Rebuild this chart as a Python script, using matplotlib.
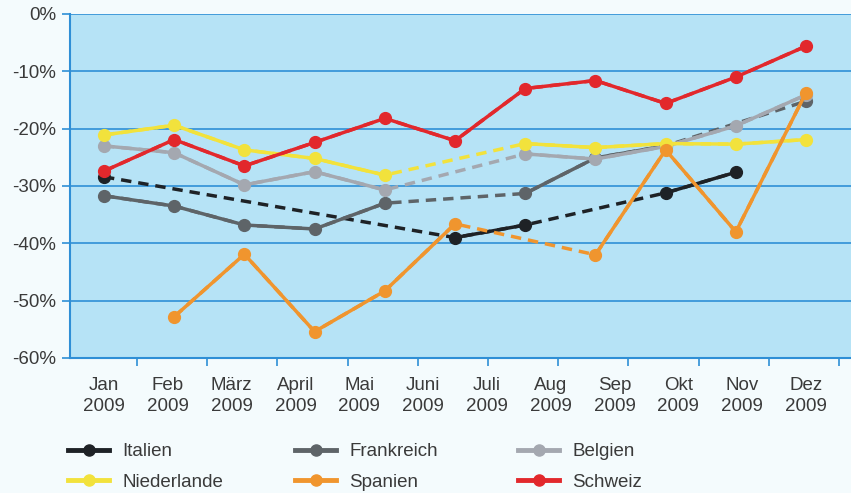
import numpy as np
import matplotlib
matplotlib.use('Agg')
import matplotlib.pyplot as plt
from matplotlib.lines import Line2D

plt.rcParams['font.family'] = ['Liberation Sans Narrow', 'Liberation Sans', 'DejaVu Sans']

nan = np.nan
months = ['Jan\n2009', 'Feb\n2009', 'März\n2009', 'April\n2009', 'Mai\n2009', 'Juni\n2009',
          'Juli\n2009', 'Aug\n2009', 'Sep\n2009', 'Okt\n2009', 'Nov\n2009', 'Dez\n2009']

# values in percent, one per data position (11 positions drawn)
italien     = [-28.4, nan, nan, nan, nan, -39.0, -36.8, nan, -31.2, -27.6, nan]
frankreich  = [-31.7, -33.5, -36.8, -37.5, -33.0, nan, -31.3, -25.1, -23.0, nan, -15.2]
belgien     = [-23.0, -24.2, -29.8, -27.5, -30.7, nan, -24.4, -25.3, -23.1, -19.5, -14.1]
niederlande = [-21.1, -19.4, -23.7, -25.2, -28.1, nan, -22.6, -23.3, -22.6, -22.7, -21.9]
spanien     = [nan, -52.8, -41.9, -55.4, -48.3, -36.6, nan, -42.0, -23.7, -38.0, -13.7]
schweiz     = [-27.4, -21.9, -26.5, -22.4, -18.2, -22.1, -13.0, -11.6, -15.6, -11.0, -5.6]

series = [
    ('Italien', italien, '#1e2226'),
    ('Frankreich', frankreich, '#5e6468'),
    ('Belgien', belgien, '#a4a8b0'),
    ('Niederlande', niederlande, '#f2e23c'),
    ('Spanien', spanien, '#f0952e'),
    ('Schweiz', schweiz, '#e2282c'),
]

W, H = 851, 493
fig = plt.figure(figsize=(W / 100, H / 100), dpi=100)
fig.patch.set_facecolor('#f4fbfd')
ax = fig.add_axes([70 / W, 1 - 358 / H, (W - 70) / W, (358 - 14) / H])
ax.set_facecolor('#b6e3f6')

blue = '#2f8fd6'
x = np.arange(len(schweiz))
for i, (name, vals, col) in enumerate(series):
    v = np.array(vals)
    ok = ~np.isnan(v)
    # dashed bridge over missing months
    ax.plot(x[ok], v[ok], color=col, lw=2.5, dashes=(3, 2), zorder=3 + i * 0.1)
    ax.plot(x, v, color=col, lw=2.5, marker='o', ms=8.5, zorder=3.05 + i * 0.1)

ax.set_ylim(-60, 0)
ax.set_xlim(-0.484, 10.64)
ax.set_yticks(np.arange(-60, 1, 10))
ax.set_yticklabels(['%d%%' % t for t in np.arange(-60, 1, 10)], fontsize=13.5, color='#3a3a3a')
ax.yaxis.grid(True, color=blue, lw=1.2)
ax.set_axisbelow(True)
ax.tick_params(axis='y', length=6, color=blue, width=1.2, pad=4)

ax.set_xticks(np.arange(11) + 0.47)
ax.set_xticklabels([])
ax.tick_params(axis='x', which='major', length=6, color=blue, width=1.2)
ax.set_xticks(np.arange(12) * 10 / 11, minor=True)
ax.set_xticklabels(months, minor=True, fontsize=13.5, color='#3a3a3a', linespacing=1.3)
ax.tick_params(axis='x', which='minor', length=0, pad=14)

for s in ['left', 'bottom']:
    ax.spines[s].set_color(blue)
    ax.spines[s].set_linewidth(1.5)
for s in ['top', 'right']:
    ax.spines[s].set_visible(False)

# legend in three columns
cols = [[series[0], series[3]], [series[1], series[4]], [series[2], series[5]]]
xs = [68, 295, 518]
for cx, pair in zip(xs, cols):
    handles = [Line2D([], [], color=c, lw=3.5, marker='o', ms=8) for _, _, c in pair]
    leg = fig.legend(handles, [n for n, _, _ in pair], loc='upper left',
                     bbox_to_anchor=(cx / W, 1 - 443 / H), frameon=False,
                     fontsize=13.5, handlelength=2.2, handletextpad=0.7,
                     labelspacing=0.72, borderpad=0, borderaxespad=0)
    for t in leg.get_texts():
        t.set_color('#3a3a3a')

fig.savefig('out.png', dpi=100, facecolor=fig.get_facecolor())
